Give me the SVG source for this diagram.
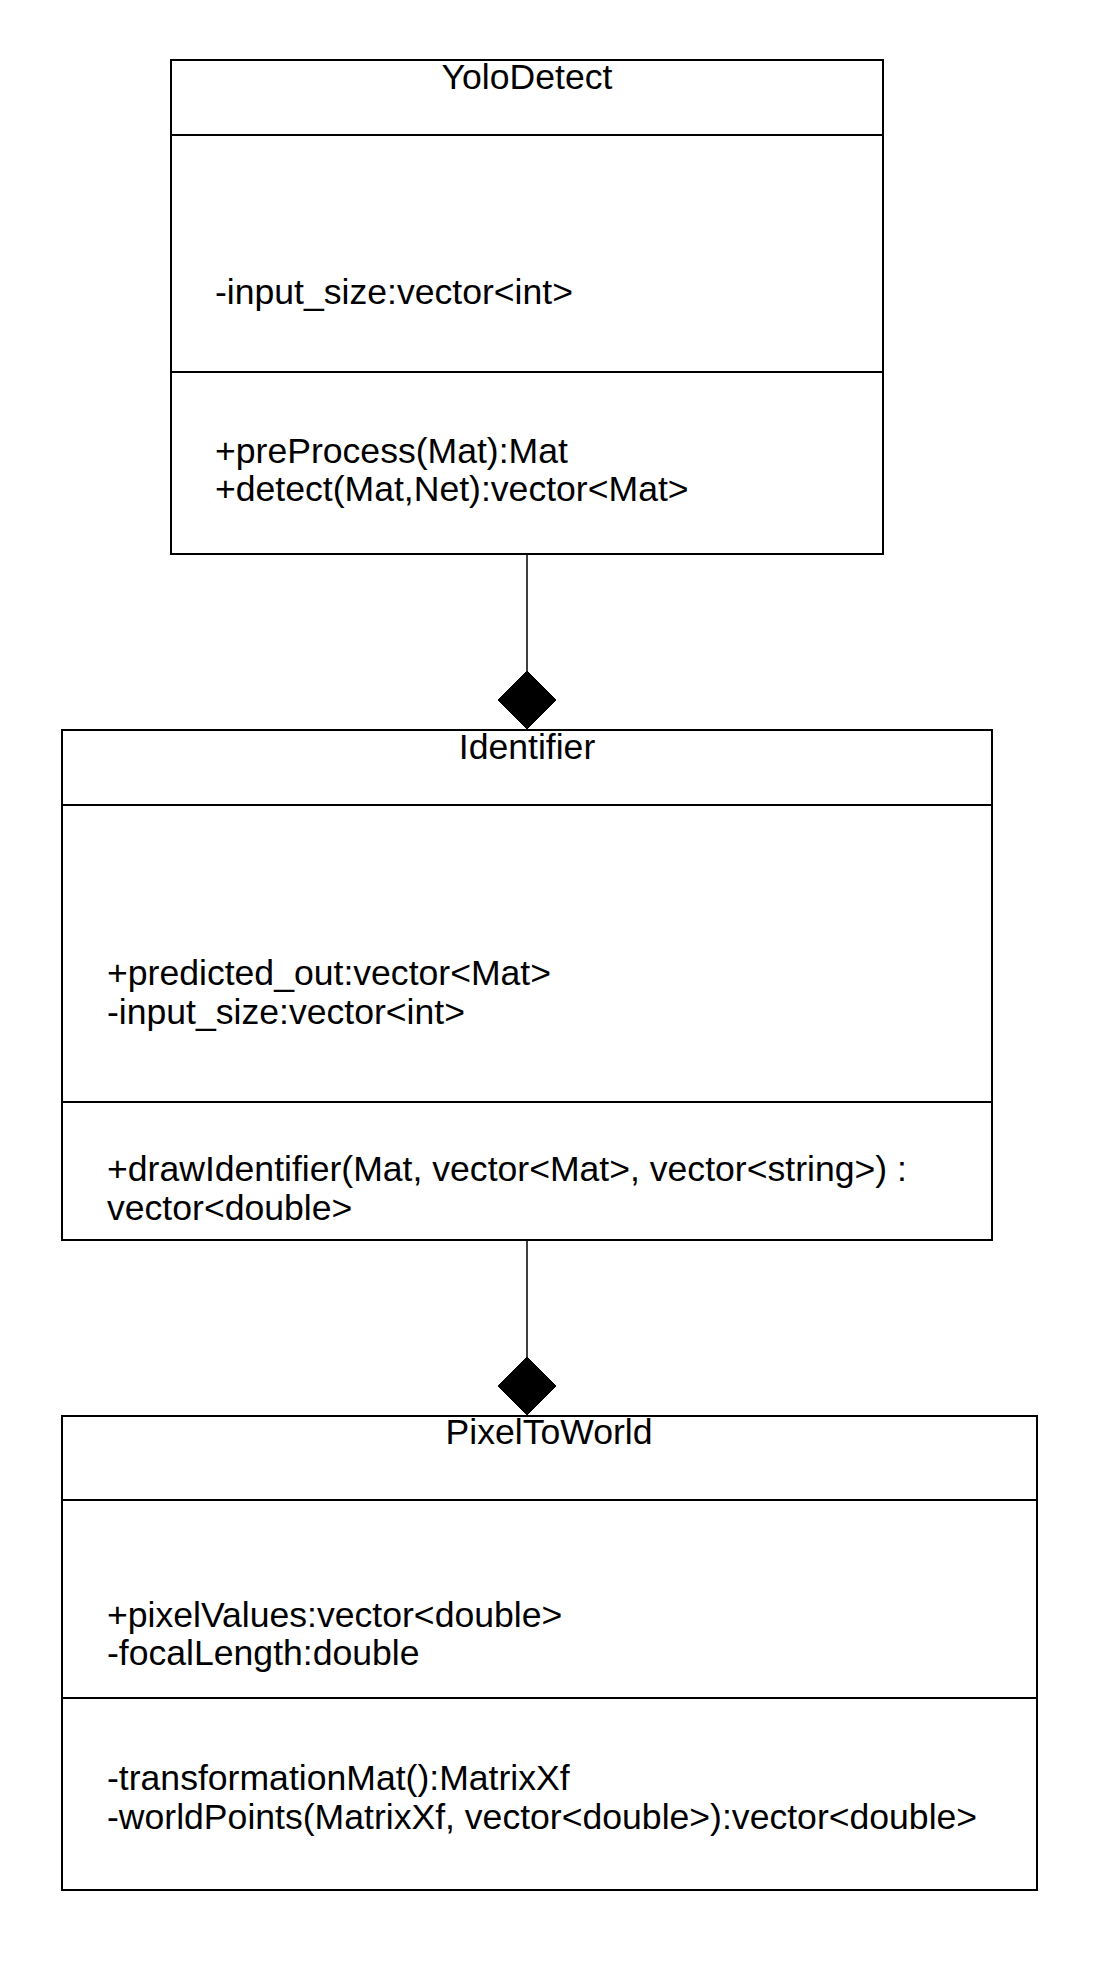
<svg xmlns="http://www.w3.org/2000/svg" width="1097" height="1965" viewBox="0 0 1097 1965">
<style>
  .box { fill: #ffffff; stroke: #000000; stroke-width: 2; }
  .sep { stroke: #000000; stroke-width: 2; fill: none; }
  .conn { stroke: #000000; stroke-width: 1.5; fill: none; }
  .dia { fill: #000000; stroke: #000000; stroke-width: 1; }
  text { font-family: "Liberation Sans", Arial, sans-serif; font-size: 35.6px; fill: #000000; }
  .title { text-anchor: middle; }
</style>
<rect width="1097" height="1965" fill="#ffffff"/>
<g id="connectors">
  <g id="yolo-identifier">
    <line class="conn" x1="527" y1="554" x2="527" y2="672"/>
    <polygon class="dia" points="527,671 556,700 527,729 498,700"/>
  </g>
  <g id="identifier-pixeltoworld">
    <line class="conn" x1="527" y1="1240" x2="527" y2="1358"/>
    <polygon class="dia" points="527,1357 556,1386 527,1415 498,1386"/>
  </g>
</g>
<g id="YoloDetect">
  <rect class="box" x="171" y="60" width="712" height="494"/>
  <line class="sep" x1="171" y1="135" x2="883" y2="135"/>
  <line class="sep" x1="171" y1="372" x2="883" y2="372"/>
  <text class="title" x="527" y="89">YoloDetect</text>
  <text x="215" y="304">-input_size:vector&lt;int&gt;</text>
  <text x="215" y="463">+preProcess(Mat):Mat</text>
  <text x="215" y="501">+detect(Mat,Net):vector&lt;Mat&gt;</text>
</g>
<g id="Identifier">
  <rect class="box" x="62" y="730" width="930" height="510"/>
  <line class="sep" x1="62" y1="805" x2="992" y2="805"/>
  <line class="sep" x1="62" y1="1102" x2="992" y2="1102"/>
  <text class="title" x="527" y="759">Identifier</text>
  <text x="107" y="985">+predicted_out:vector&lt;Mat&gt;</text>
  <text x="107" y="1024">-input_size:vector&lt;int&gt;</text>
  <text x="107" y="1181">+drawIdentifier(Mat, vector&lt;Mat&gt;, vector&lt;string&gt;) :</text>
  <text x="107" y="1220">vector&lt;double&gt;</text>
</g>
<g id="PixelToWorld">
  <rect class="box" x="62" y="1416" width="975" height="474"/>
  <line class="sep" x1="62" y1="1500" x2="1037" y2="1500"/>
  <line class="sep" x1="62" y1="1698" x2="1037" y2="1698"/>
  <text class="title" x="549" y="1444">PixelToWorld</text>
  <text x="107" y="1627">+pixelValues:vector&lt;double&gt;</text>
  <text x="107" y="1665">-focalLength:double</text>
  <text x="107" y="1790">-transformationMat():MatrixXf</text>
  <text x="107" y="1829">-worldPoints(MatrixXf, vector&lt;double&gt;):vector&lt;double&gt;</text>
</g>
</svg>
